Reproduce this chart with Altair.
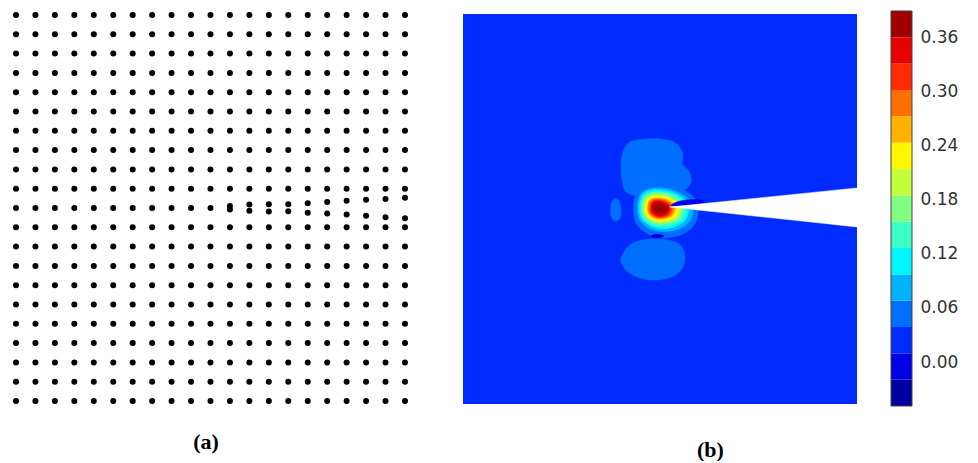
import altair as alt
import pandas as pd

# ---------------- panel (a): particle grid ----------------
grid_cols = list(range(21))
grid_rows = list(range(21))
crack_row = 10
crack_cols = [11, 12, 13, 14, 15, 16, 17, 18, 19, 20]
crack_upper = [0.10, 0.18, 0.19, 0.19, 0.24, 0.31, 0.38, 0.43, 0.47, 0.53]
crack_lower = [-0.08, -0.14, -0.18, -0.17, -0.24, -0.29, -0.34, -0.40, -0.48, -0.53]

# ---------------- panel (b): contour field ----------------
levels = [-0.0487, -0.0195, 0.0096, 0.0388, 0.0680, 0.0971, 0.1263, 0.1555,
          0.1846, 0.2138, 0.2430, 0.2721, 0.3013, 0.3305, 0.3596, 0.3888]
band_colors = ["#0000a1", "#0000e6", "#002bff", "#006eff", "#00b3ff", "#00f6ff",
               "#3bffc4", "#80ff80", "#c4ff3b", "#fff600", "#ffb300", "#ff6e00",
               "#ff2b00", "#e60000", "#a10000"]
cbar_ticks = [0.00, 0.06, 0.12, 0.18, 0.24, 0.30, 0.36]
background_band = 2

# contour regions: (band, x list, y list), specimen units 0..100
upper_blob = (3,
    [42.4, 46.2, 50.5, 53.5, 55.3, 55.8, 55.6, 57.1, 57.9, 57.4, 55.1, 50.0, 44.9, 41.4, 40.4, 40.1, 40.6],
    [67.2, 67.9, 67.9, 67.2, 65.4, 63.3, 61.5, 60.0, 57.9, 55.9, 54.4, 53.8, 53.3, 54.4, 57.4, 61.3, 64.6])
lower_blob = (3,
    [40.9, 43.1, 47.5, 52.0, 55.1, 56.3, 55.8, 53.5, 49.2, 44.9, 41.6, 40.1],
    [39.0, 41.3, 42.3, 42.0, 40.8, 38.2, 35.1, 32.8, 31.8, 32.3, 34.1, 36.7])
left_blob = (3,
    [37.6, 38.6, 39.6, 40.1, 39.8, 38.6, 37.6],
    [51.3, 52.6, 52.0, 49.7, 47.7, 46.9, 48.2])
halo_3 = (3,
    [43.5, 45.6, 50.5, 55.3, 59.4, 58.9, 54.8, 48.8, 44.0],
    [52.5, 56.0, 56.7, 55.3, 51.8, 46.3, 43.2, 42.8, 46.3])
ring_4 = (4,
    [44.4, 46.3, 50.4, 54.6, 58.1, 57.7, 54.2, 49.0, 44.9],
    [52.1, 54.8, 55.4, 54.3, 51.5, 47.1, 44.7, 44.4, 47.1])
ring_5 = (5,
    [44.9, 46.5, 50.3, 54.0, 57.1, 56.7, 53.6, 49.0, 45.3],
    [51.9, 54.4, 54.9, 53.9, 51.5, 47.6, 45.4, 45.1, 47.6])
ring_6 = (6,
    [45.4, 46.9, 50.2, 53.6, 56.3, 56.0, 53.2, 49.1, 45.7],
    [51.7, 53.9, 54.4, 53.5, 51.3, 47.8, 45.9, 45.6, 47.8])
ring_7 = (7,
    [45.6, 47.0, 50.0, 53.0, 55.6, 55.3, 52.7, 49.0, 45.9],
    [51.7, 53.7, 54.1, 53.3, 51.3, 48.1, 46.4, 46.2, 48.1])
ring_8 = (8,
    [46.1, 47.3, 50.0, 52.8, 55.1, 54.8, 52.5, 49.1, 46.4],
    [51.5, 53.2, 53.6, 52.9, 51.2, 48.4, 46.9, 46.7, 48.4])
ring_9 = (9,
    [46.4, 47.5, 50.0, 52.5, 54.6, 54.3, 52.2, 49.1, 46.6],
    [51.4, 53.0, 53.3, 52.7, 51.1, 48.5, 47.1, 46.9, 48.5])
ring_10 = (10,
    [46.9, 47.8, 49.9, 52.0, 53.8, 53.6, 51.8, 49.2, 47.1],
    [51.2, 52.6, 52.8, 52.3, 50.9, 48.8, 47.6, 47.4, 48.8])
ring_11 = (11,
    [47.1, 47.9, 49.8, 51.7, 53.3, 53.1, 51.5, 49.2, 47.3],
    [51.1, 52.3, 52.6, 52.1, 50.9, 48.9, 47.8, 47.7, 48.9])
ring_12 = (12,
    [47.6, 48.3, 49.9, 51.5, 52.8, 52.6, 51.3, 49.3, 47.7],
    [51.0, 52.1, 52.3, 51.9, 50.8, 49.0, 48.1, 47.9, 49.0])
ring_13 = (13,
    [47.8, 48.4, 49.8, 51.1, 52.3, 52.2, 51.0, 49.3, 47.9],
    [50.9, 51.9, 52.0, 51.7, 50.7, 49.2, 48.3, 48.2, 49.2])
core_14 = (14,
    [48.3, 48.75, 49.8, 50.9, 51.8, 51.7, 50.8, 49.5, 48.4],
    [50.7, 51.4, 51.5, 51.3, 50.5, 49.4, 48.8, 48.7, 49.4])
dark_gap = (1,
    [47.7, 49.2, 51.0, 50.0, 48.5],
    [43.1, 43.5, 43.1, 42.6, 42.6])
crack_flank = (1,
    [52.8, 54.6, 57.6, 60.7, 60.7, 57.6, 54.6],
    [50.9, 51.9, 52.4, 52.2, 51.3, 51.0, 50.8])
regions = [upper_blob, lower_blob, left_blob, halo_3, ring_4, ring_5, ring_6,
           ring_7, ring_8, ring_9, ring_10, ring_11, ring_12, ring_13, core_14,
           dark_gap, crack_flank]

crack_x = [52.5, 100.0, 100.0]
crack_y = [50.5, 55.4, 45.4]

# ---------------- build panel (a) ----------------
pts = []
for r in grid_rows:
    for c in grid_cols:
        yv = 20 - r
        if r == crack_row and c in crack_cols:
            k = crack_cols.index(c)
            pts.append({"gx": c, "gy": yv + crack_upper[k]})
            pts.append({"gx": c, "gy": yv + crack_lower[k]})
        else:
            pts.append({"gx": c, "gy": yv})
df_a = pd.DataFrame(pts)

panel_a = alt.Chart(df_a).mark_circle(size=36, color="black", opacity=1).encode(
    x=alt.X("gx:Q", scale=alt.Scale(domain=[-0.411, 20.67], nice=False, zero=False), axis=None),
    y=alt.Y("gy:Q", scale=alt.Scale(domain=[-0.363, 20.363], nice=False, zero=False), axis=None),
).properties(
    width=410, height=400,
    title=alt.TitleParams("(a)", orient="bottom", font="Liberation Serif", fontSize=22,
                          fontWeight="bold", color="black", offset=24, dx=-7),
)

# ---------------- build panel (b) ----------------
xs_scale = alt.Scale(domain=[0, 100], nice=False, zero=False)
ys_scale = alt.Scale(domain=[-1.03, 101.54], nice=False, zero=False)

bg = alt.Chart(pd.DataFrame({"x0": [0], "x1": [100], "y0": [0], "y1": [100]})).mark_rect(
    color=band_colors[background_band], opacity=1
).encode(
    x=alt.X("x0:Q", scale=xs_scale, axis=None), x2="x1:Q",
    y=alt.Y("y0:Q", scale=ys_scale, axis=None), y2="y1:Q",
)


def poly_layer(xs, ys, color, interp="cardinal-closed", sw=0.6):
    d = pd.DataFrame({"x": xs, "y": ys, "i": list(range(len(xs)))})
    return alt.Chart(d).mark_line(
        interpolate=interp, fill=color, stroke=color, strokeWidth=sw, fillOpacity=1
    ).encode(
        x=alt.X("x:Q", scale=xs_scale, axis=None),
        y=alt.Y("y:Q", scale=ys_scale, axis=None),
        order=alt.Order("i:Q"),
    )


layers = [bg]
for band, rx, ry in regions:
    layers.append(poly_layer(rx, ry, band_colors[band]))
layers.append(poly_layer(crack_x, crack_y, "white", interp="linear-closed", sw=0.5))

panel_b = alt.layer(*layers).properties(width=394, height=400)

# ---------------- colorbar ----------------
df_c = pd.DataFrame({"lo": levels[:-1], "hi": levels[1:], "col": band_colors})
c_scale = alt.Scale(domain=[-0.05091, 0.39212], nice=False, zero=False)
cbar = alt.Chart(df_c).mark_rect().encode(
    x=alt.value(0), x2=alt.value(21),
    y=alt.Y("lo:Q", scale=c_scale, title="",
            axis=alt.Axis(orient="right", values=cbar_ticks, format=".2f", ticks=False,
                          domain=False, grid=False, labelPadding=8, labelFont="DejaVu Sans",
                          labelFontSize=17, labelColor="#333333")),
    y2="hi:Q",
    color=alt.Color("col:N", scale=None),
)
cbar_frame = alt.Chart(pd.DataFrame({"lo": [levels[0]], "hi": [levels[-1]]})).mark_rect(
    filled=False, stroke="#444444", strokeWidth=1
).encode(
    x=alt.value(0), x2=alt.value(21),
    y=alt.Y("lo:Q", scale=c_scale), y2="hi:Q",
)
colorbar = alt.layer(cbar, cbar_frame).properties(width=21, height=400)

right = alt.hconcat(panel_b, colorbar, spacing=32).properties(
    title=alt.TitleParams("(b)", orient="bottom", anchor="middle", font="Liberation Serif",
                          fontSize=22, fontWeight="bold", color="black", offset=32, dx=0),
)

chart = alt.hconcat(panel_a, right, spacing=45).properties(padding=0).configure_view(
    strokeWidth=0
)

chart.save("out.html", embed_options={"renderer": "svg", "actions": False})
